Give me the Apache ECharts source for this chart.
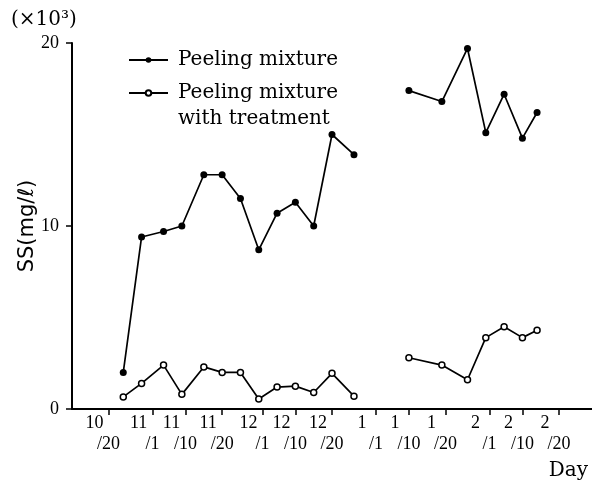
<!DOCTYPE html>
<html>
<head>
<meta charset="utf-8">
<script src="https://cdn.jsdelivr.net/npm/echarts@6/dist/echarts.min.js"></script>
<style>
  html, body { margin: 0; padding: 0; background: #fff; }
  #chart { width: 592px; height: 481px; }
</style>
</head>
<body>
<div id="chart"></div>
<script>
// Sampling days (month/day); '1/1' is a gap between the two sampling campaigns
const sampleDays = ['10/24', '10/29', '11/4', '11/9', '11/15', '11/20', '11/25', '11/30',
  '12/5', '12/10', '12/15', '12/20', '12/26', '1/1',
  '1/10', '1/19', '1/26', '1/31', '2/5', '2/10', '2/14'];

// SS in units of 10^3 mg/l
const peelingMixture = [2.0, 9.4, 9.7, 10.0, 12.8, 12.8, 11.5, 8.7, 10.7, 11.3, 10.0, 15.0, 13.9, null,
  17.4, 16.8, 19.7, 15.1, 17.2, 14.8, 16.2];
const peelingTreated = [0.66, 1.4, 2.4, 0.8, 2.3, 2.0, 2.0, 0.55, 1.2, 1.25, 0.9, 1.95, 0.7, null,
  2.8, 2.4, 1.6, 3.9, 4.5, 3.9, 4.3];

// Axis tick days
const tickDays = ['10/20', '11/1', '11/10', '11/20', '12/1', '12/10', '12/20',
  '1/1', '1/10', '1/20', '2/1', '2/10', '2/20'];
const axisStart = '10/10';
const axisEnd = '3/1';

const seriesNames = ['Peeling mixture', 'Peeling mixture\nwith treatment'];

// Day number counted from 1 Oct; Oct–Dec fall in the first year, Jan–Mar in the next
const DAY_MS = 86400000;
const origin = Date.UTC(1980, 9, 1);
function toDay(md) {
  const [m, d] = md.split('/').map(Number);
  const year = m >= 9 ? 1980 : 1981;
  return Math.round((Date.UTC(year, m - 1, d) - origin) / DAY_MS);
}
// Month on the first line (set off to the left), "/day" on the second
function dayLabel(n) {
  const dt = new Date(origin + n * DAY_MS);
  return '{m|' + (dt.getUTCMonth() + 1) + '}\n{d|/' + dt.getUTCDate() + '}';
}

function toPairs(values) {
  return sampleDays.map((d, i) => [toDay(d), values[i] == null ? '-' : values[i]]);
}

const serif = '"Liberation Serif", "DejaVu Serif", serif';
const legendFont = '"DejaVu Serif", serif';
const tickValues = tickDays.map(toDay);

// One legend per series; a blank leading line keeps the marker level
// with the first line of a two-line name
function legendAt(top, name, leadBlank) {
  return {
    orient: 'vertical',
    left: 128,
    top: top,
    padding: 0,
    itemWidth: 39,
    itemHeight: 7,
    data: [name],
    formatter: function (n) { return leadBlank ? ' \n' + n : n; },
    textStyle: {
      fontFamily: legendFont, fontSize: 20, color: '#000',
      lineHeight: 26, padding: [0, 0, 0, 5]
    }
  };
}

const chart = echarts.init(document.getElementById('chart'), null, { renderer: 'canvas' });

chart.setOption({
  animation: false,
  backgroundColor: '#fff',
  title: [
    {
      text: '(×10³)',
      left: 11, top: 10, padding: 0,
      textStyle: { fontFamily: legendFont, fontSize: 20, fontWeight: 'normal', color: '#000' }
    },
    {
      text: 'Day',
      right: 4, top: 461, padding: 0,
      textStyle: { fontFamily: legendFont, fontSize: 20, fontWeight: 'normal', color: '#000' }
    }
  ],
  legend: [
    legendAt(47, seriesNames[0], false),
    legendAt(54, seriesNames[1], true)
  ],
  grid: { left: 72, right: 0, top: 43, bottom: 72 },
  xAxis: {
    type: 'value',
    min: toDay(axisStart),
    max: toDay(axisEnd),
    axisLine: { lineStyle: { color: '#000', width: 2 } },
    axisTick: {
      show: true, inside: false, length: 6,
      customValues: tickValues,
      lineStyle: { color: '#000', width: 1.5 }
    },
    axisLabel: {
      customValues: tickValues,
      interval: 0,
      showMinLabel: true,
      showMaxLabel: true,
      hideOverlap: false,
      fontFamily: serif, fontSize: 18, color: '#000',
      margin: 4,
      formatter: function (v) { return dayLabel(v); },
      rich: {
        m: { fontFamily: serif, fontSize: 18, color: '#000', lineHeight: 21, padding: [0, 0, 0, -28] },
        d: { fontFamily: serif, fontSize: 18, color: '#000', lineHeight: 21 }
      }
    },
    splitLine: { show: false }
  },
  yAxis: {
    type: 'value',
    min: 0, max: 20, interval: 10,
    name: 'SS(mg/ℓ)',
    nameLocation: 'middle',
    nameRotate: 90,
    nameGap: 34,
    nameMoveOverlap: false,
    nameTextStyle: { fontFamily: '"DejaVu Sans", sans-serif', fontSize: 21, color: '#000' },
    axisLine: { show: true, lineStyle: { color: '#000', width: 2 } },
    axisTick: { show: true, inside: false, length: 6, lineStyle: { color: '#000', width: 1.5 } },
    axisLabel: { fontFamily: serif, fontSize: 18, color: '#000', margin: 13 },
    splitLine: { show: false }
  },
  series: [
    {
      name: seriesNames[0],
      type: 'line',
      data: toPairs(peelingMixture),
      connectNulls: false,
      symbol: 'circle',
      symbolSize: 7,
      itemStyle: { color: '#000' },
      lineStyle: { color: '#000', width: 1.7 }
    },
    {
      name: seriesNames[1],
      type: 'line',
      data: toPairs(peelingTreated),
      connectNulls: false,
      symbol: 'circle',
      symbolSize: 6,
      itemStyle: { color: '#fff', borderColor: '#000', borderWidth: 1.5 },
      lineStyle: { color: '#000', width: 1.7 }
    }
  ]
});
</script>
</body>
</html>
